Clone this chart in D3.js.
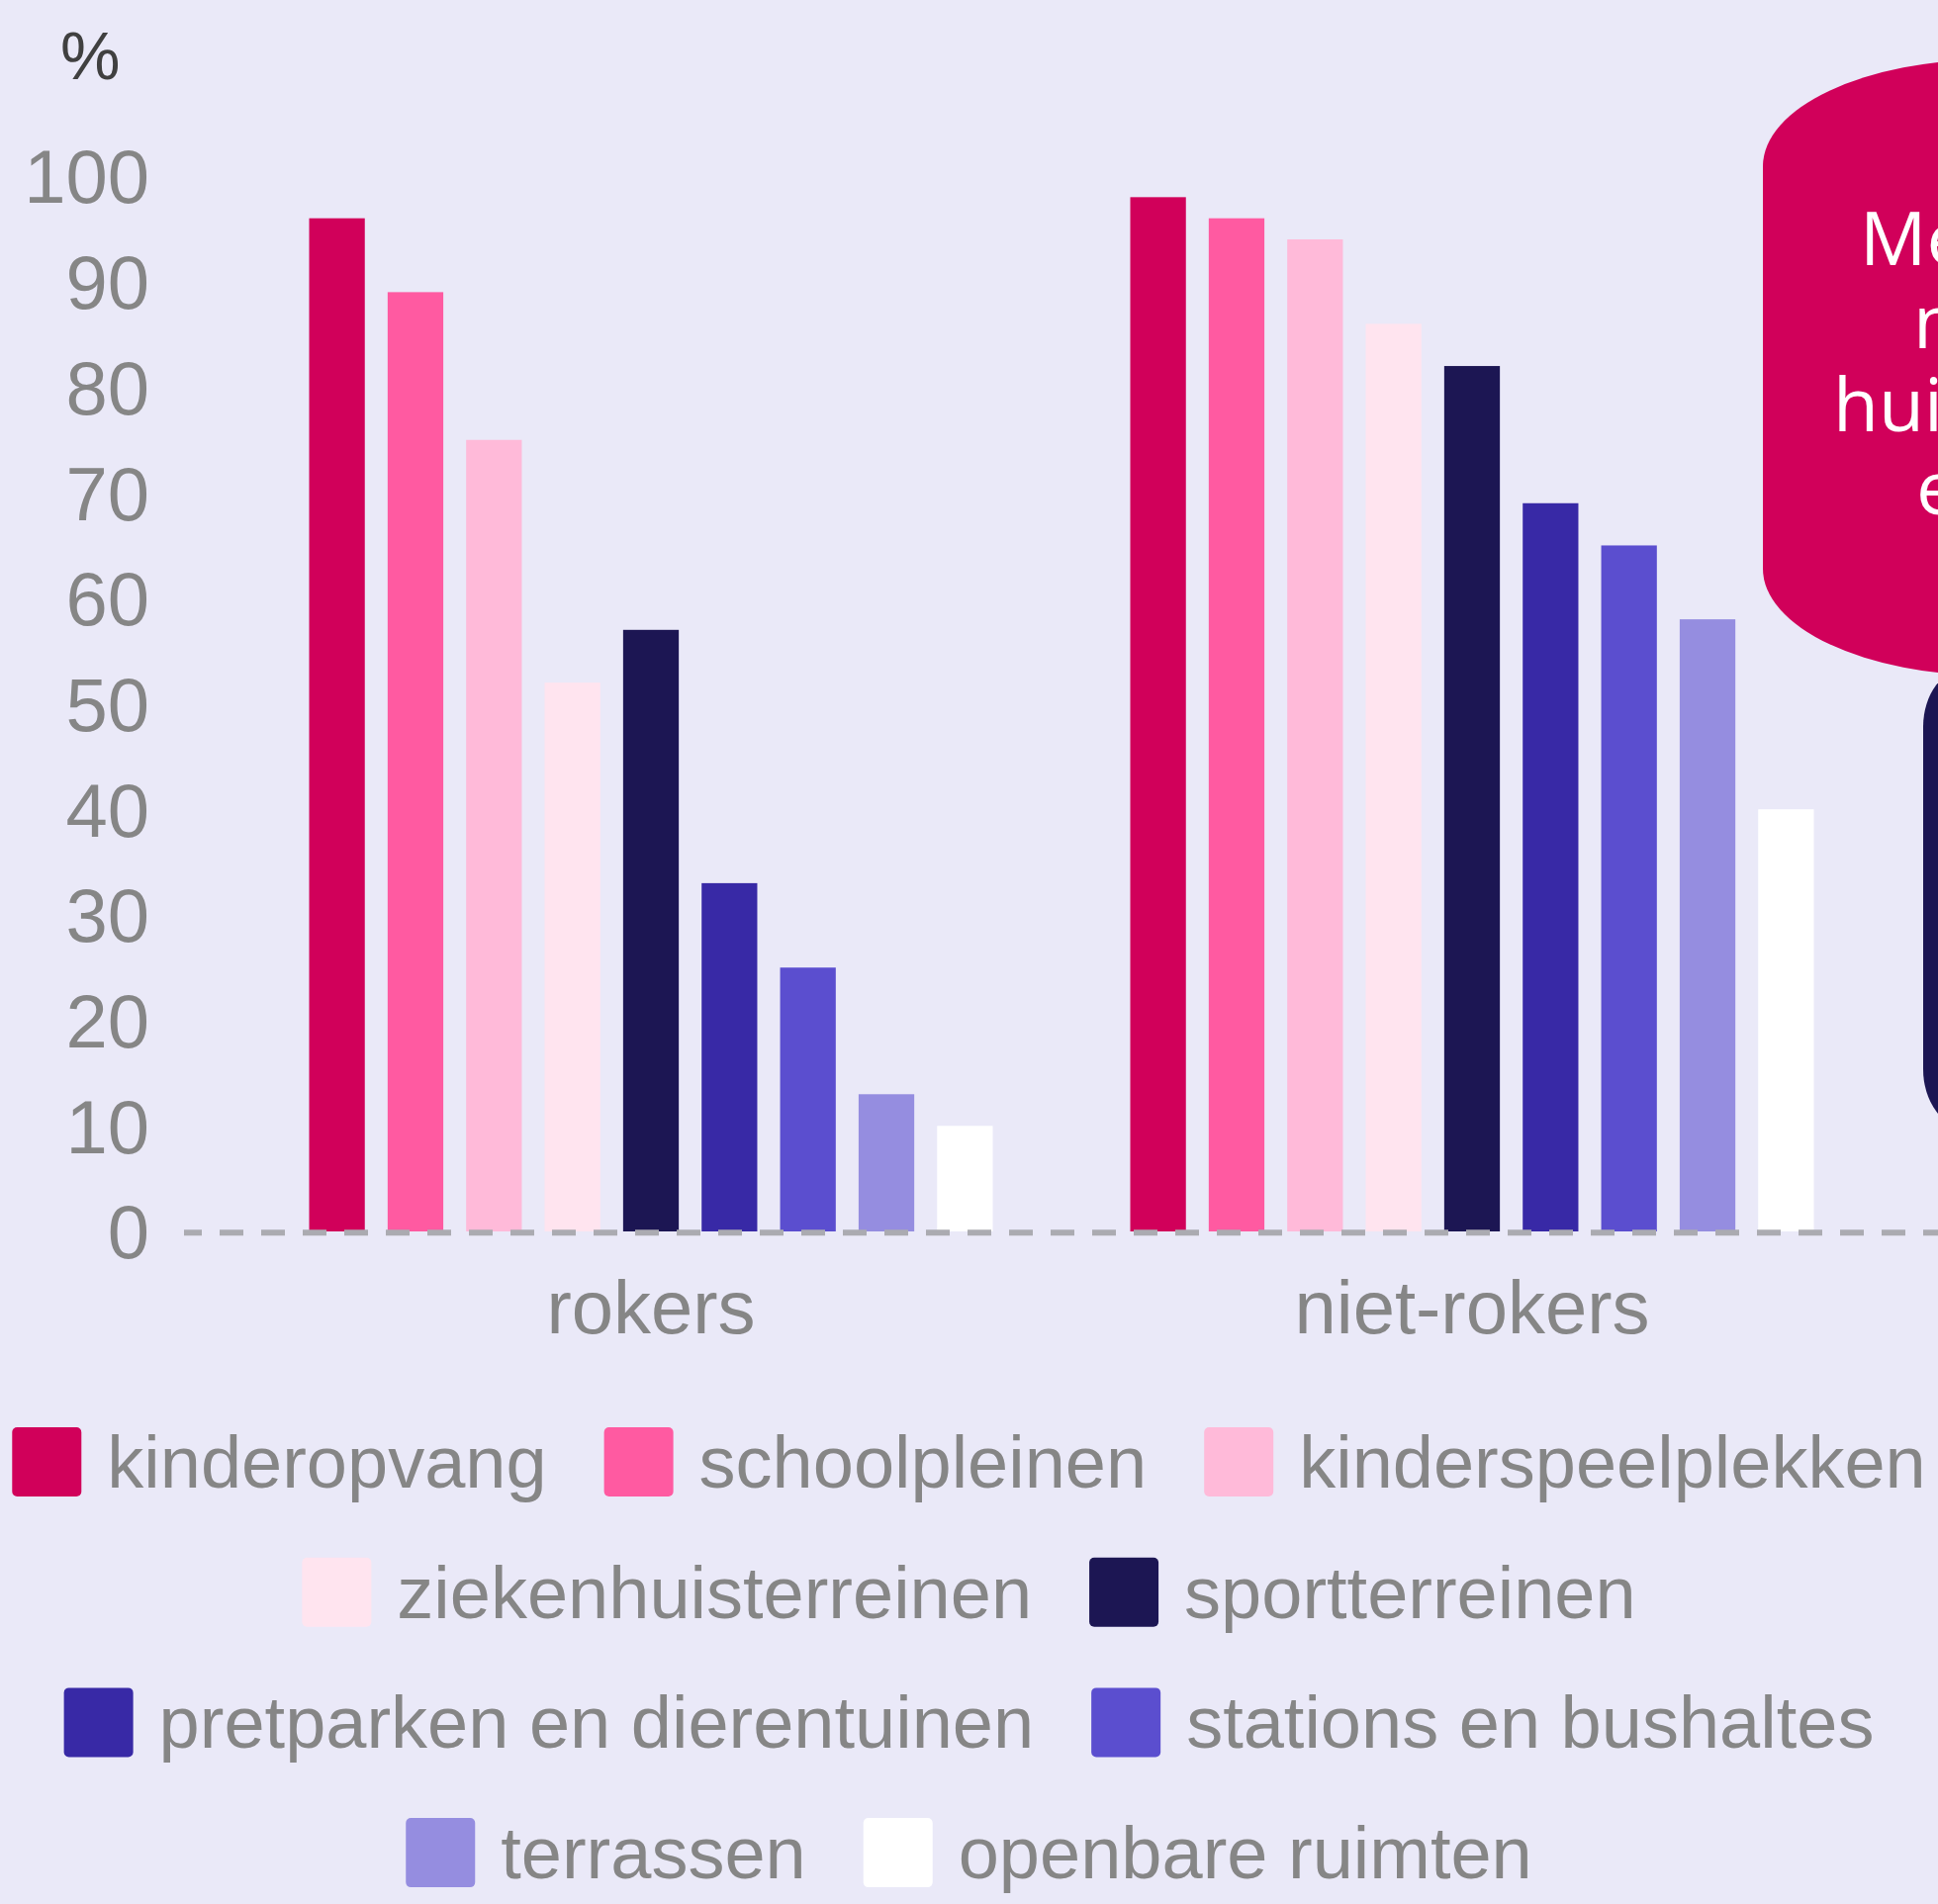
<!DOCTYPE html>
<html>
<head>
<meta charset="utf-8">
<script src="https://cdn.jsdelivr.net/npm/d3@7"></script>
<style>
  body { margin: 0; background: #EAE9F8; overflow: hidden; }
  text { font-family: "Liberation Sans", Arial, sans-serif; }
</style>
</head>
<body>
<div class="chart"></div>
<script>
var svgWidth = 1959;
var svgHeight = 1925;

// data
var groups = ["rokers", "niet-rokers"];
var categories = ["kinderopvang", "schoolpleinen", "kinderspeelplekken", "ziekenhuisterreinen",
  "sportterreinen", "pretparken en dierentuinen", "stations en bushaltes", "terrassen", "openbare ruimten"];
var rokersValues = [96, 89, 75, 52, 57, 33, 25, 13, 10];
var nietRokersValues = [98, 96, 94, 86, 82, 69, 65, 58, 40];
var colors = ["#D1005A", "#FF5AA1", "#FFBAD9", "#FFE4EF", "#1C1653", "#3829A6", "#5B4ECF", "#958DE0", "#FFFFFF"];
var yTicks = [0, 10, 20, 30, 40, 50, 60, 70, 80, 90, 100];
var legendRows = [[0, 1, 2], [3, 4], [5, 6], [7, 8]];
var calloutLines = ["Meerderheid", "niet-rokers", "huiverig voor", "eigen rook"];

var seriesByGroup = { "rokers": rokersValues, "niet-rokers": nietRokersValues };

var svg = d3.select(".chart")
    .append("svg")
    .attr("width", svgWidth)
    .attr("height", svgHeight);

svg.append("rect")
    .attr("width", svgWidth)
    .attr("height", svgHeight)
    .attr("fill", "#EAE9F8");

// scales
var yScale = d3.scaleLinear().domain([0, 100]).range([1245, 178]);
var x0 = d3.scaleBand().domain(groups).range([243, 1903]);
var x1 = d3.scaleBand().domain(categories).range([69.5, 760.5]).paddingInner(0.291);

// callout shapes at the right (cut off by the page edge)
svg.append("rect")
    .attr("x", 1944).attr("y", 675)
    .attr("width", 300).attr("height", 466)
    .attr("rx", 45).attr("ry", 60)
    .attr("fill", "#1C1653");

svg.append("rect")
    .attr("x", 1782).attr("y", 60)
    .attr("width", 600).attr("height", 623)
    .attr("rx", 230).attr("ry", 108)
    .attr("fill", "#D1005A");

var calloutStarts = [1880, 1934, 1853, 1937];
svg.append("g").selectAll("text")
    .data(calloutLines)
    .join("text")
    .attr("x", (d, i) => calloutStarts[i])
    .attr("y", (d, i) => 268 + i * 84)
    .attr("fill", "#FFFFFF")
    .style("font-family", "'Open Sans', 'DejaVu Sans', sans-serif")
    .style("font-size", "75px")
    .text(d => d);

// bars
var groupG = svg.selectAll(".group")
    .data(groups)
    .join("g")
    .attr("class", "group")
    .attr("transform", d => `translate(${x0(d)},0)`);

groupG.selectAll("rect")
    .data(g => seriesByGroup[g].map((v, i) => ({ cat: categories[i], value: v, color: colors[i] })))
    .join("rect")
    .attr("x", d => x1(d.cat))
    .attr("y", d => yScale(d.value))
    .attr("width", x1.bandwidth())
    .attr("height", d => yScale(0) - yScale(d.value))
    .attr("fill", d => d.color);

// dashed baseline
svg.append("line")
    .attr("x1", 186).attr("x2", svgWidth)
    .attr("y1", yScale(0) + 1.3).attr("y2", yScale(0) + 1.3)
    .attr("stroke", "#ABABB1")
    .attr("stroke-width", 6)
    .attr("stroke-dasharray", "24,18")
    .attr("stroke-dashoffset", 6);

// y axis
var yAxis = svg.append("g")
    .attr("transform", "translate(151,0)")
    .call(d3.axisLeft(yScale).tickValues(yTicks).tickSize(0).tickPadding(0));
yAxis.select(".domain").remove();
yAxis.selectAll("text")
    .attr("fill", "#868686")
    .attr("dy", "0.355em")
    .style("font-size", "76px")
    .style("font-family", "'Liberation Sans', Arial, sans-serif");

svg.append("text")
    .attr("x", 61).attr("y", 80)
    .attr("fill", "#404040")
    .style("font-size", "68px")
    .text("%");

// x axis labels
var xAxis = svg.append("g")
    .attr("transform", `translate(0,${yScale(0)})`)
    .call(d3.axisBottom(x0).tickSize(0));
xAxis.select(".domain").remove();
xAxis.selectAll("text")
    .attr("y", 103)
    .attr("dy", 0)
    .attr("fill", "#868686")
    .style("font-size", "76px")
    .style("font-family", "'Liberation Sans', Arial, sans-serif");

// legend
var legend = svg.append("g");
var sw = 70, swGap = 26, itemGap = 58, rowY0 = 1478, rowStep = 131.7;
legendRows.forEach(function(row, r) {
    var rowG = legend.append("g");
    var xPos = 0;
    row.forEach(function(idx) {
        var item = rowG.append("g").attr("transform", `translate(${xPos},0)`);
        item.append("rect")
            .attr("x", 0).attr("y", -sw / 2)
            .attr("width", sw).attr("height", sw)
            .attr("rx", 5)
            .attr("fill", colors[idx]);
        var t = item.append("text")
            .attr("x", sw + swGap)
            .attr("dy", "0.35em")
            .attr("fill", "#868686")
            .style("font-size", "74px")
            .text(categories[idx]);
        xPos += sw + swGap + t.node().getComputedTextLength() + itemGap;
    });
    var rowW = xPos - itemGap;
    rowG.attr("transform", `translate(${svgWidth / 2 - rowW / 2},${rowY0 + r * rowStep})`);
});
</script>
</body>
</html>
